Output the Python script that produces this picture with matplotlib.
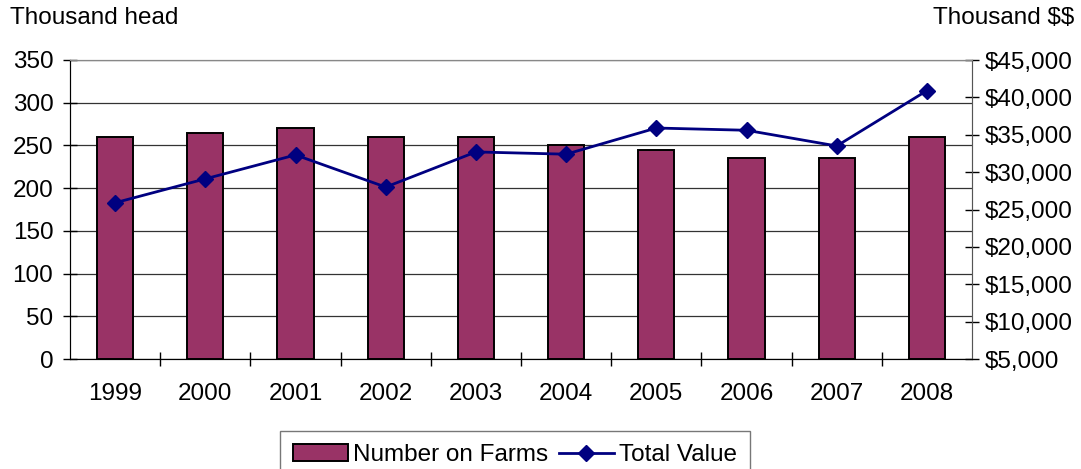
import matplotlib.pyplot as plt
from matplotlib.ticker import FuncFormatter, MultipleLocator
from matplotlib.lines import Line2D
from matplotlib.patches import Patch

plt.rcParams["font.family"] = ["Liberation Sans", "DejaVu Sans"]

anios = ["1999", "2000", "2001", "2002", "2003", "2004", "2005", "2006", "2007", "2008"]
cabezas = [260, 265, 270, 260, 260, 250, 245, 235, 235, 260]  # miles de cabezas
valor_total = [25900, 29100, 32300, 28000, 32700, 32400, 35900, 35600, 33500, 40900]  # miles de $

COLOR_BARRA = "#993366"
COLOR_LINEA = "#000080"
TAM = 17.5


def main():
    fig = plt.figure(figsize=(10.81, 4.69), dpi=100)
    ax = fig.add_axes([70 / 1081, 110 / 469, 902 / 1081, 299 / 469])
    x = list(range(len(anios)))

    ax.bar(x, cabezas, width=0.4, color=COLOR_BARRA, edgecolor="black", linewidth=1.4, zorder=3)
    ax.set_xlim(-0.5, len(anios) - 0.5)
    ax.set_ylim(0, 350)
    ax.yaxis.set_major_locator(MultipleLocator(50))
    ax.grid(axis="y", color="#333333", linewidth=0.9, zorder=0)

    # ticks del eje x entre categorias
    ax.set_xticks([i + 0.5 for i in x[:-1]])
    ax.set_xticklabels([])
    ax.set_xticks(x, minor=True)
    ax.set_xticklabels(anios, minor=True)
    ax.tick_params(axis="x", which="major", direction="inout", length=10, width=1)
    ax.tick_params(axis="x", which="minor", length=0, pad=17, labelsize=TAM)
    ax.tick_params(axis="y", direction="inout", length=10, width=1, labelsize=TAM, pad=7)

    for s in ["top", "right"]:
        ax.spines[s].set_color("#888888")
    ax.spines["left"].set_color("#333333")
    ax.spines["bottom"].set_color("#333333")

    ax2 = ax.twinx()
    ax2.plot(x, valor_total, color=COLOR_LINEA, linewidth=2, marker="D", markersize=8.5, zorder=5)
    ax2.set_ylim(5000, 45000)
    ax2.yaxis.set_major_locator(MultipleLocator(5000))
    ax2.yaxis.set_major_formatter(FuncFormatter(lambda v, p: r"\${:,.0f}".format(v)))
    ax2.tick_params(axis="y", direction="inout", length=10, width=1, labelsize=TAM, pad=4)
    ax2.spines["right"].set_color("#555555")
    ax2.spines["top"].set_color("#888888")

    fig.text(10 / 1081, 1 - 18 / 469, "Thousand head", fontsize=TAM, va="center", ha="left")
    fig.text(1074 / 1081, 1 - 18 / 469, r"Thousand \$\$", fontsize=TAM, va="center", ha="right")

    handles = [
        Patch(facecolor=COLOR_BARRA, edgecolor="black", linewidth=1.4),
        Line2D([0], [0], color=COLOR_LINEA, linewidth=2, marker="D", markersize=8),
    ]
    leg = fig.legend(handles, ["Number on Farms", "Total Value"], loc="upper center",
                     bbox_to_anchor=(515 / 1081, 1 - 431 / 469), ncol=2, fontsize=TAM,
                     frameon=True, fancybox=False, handlelength=2.25, handletextpad=0.2,
                     columnspacing=0.45, borderpad=0.55, borderaxespad=0)
    leg.get_frame().set_edgecolor("#555555")
    leg.get_frame().set_linewidth(1)

    fig.savefig("out.png", dpi=100)


if __name__ == "__main__":
    main()
